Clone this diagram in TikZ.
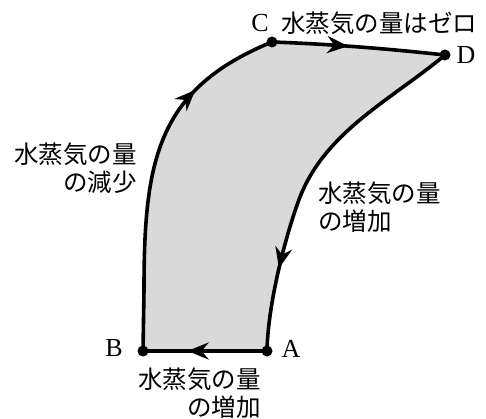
\documentclass[tikz,border=0pt]{standalone}
\usepackage{fontspec}
\setmainfont{Liberation Serif}
\newfontfamily\jp{Noto Sans CJK JP}
\usetikzlibrary{arrows.meta,decorations.markings}
\tikzset{
  edge/.style={line width=3.6pt, line cap=round, line join=round},
  arrowat/.style={postaction={decorate,decoration={markings,
     mark=at position #1 with {\arrow{Stealth[length=21pt,width=17pt,inset=7pt]}}}}},
  dot/.style={circle, fill=black, inner sep=0pt, minimum size=11pt},
  lab/.style={inner sep=0pt, font=\fontsize{26}{28}\selectfont},
  jlab/.style={inner sep=0pt, font=\jp\fontsize{24.5}{27.5}\selectfont},
  region/.style={fill=black!15}
}
\begin{document}
\begin{tikzpicture}[x=1pt,y=-1pt]
\useasboundingbox (0,0) rectangle (486,419);
\coordinate (k) at (144,290);
\coordinate (m) at (300,197);
% region
\fill[region] (143,351) -- (267,351) .. controls (268,300) and (288,228) .. (m)
  .. controls (326,131) and (391,100) .. (445,55)
  .. controls (390,49) and (330,44) .. (272,42)
  .. controls (157,89) and (144,160) .. (k) -- cycle;
% dots
\node[dot] (A) at (267,351) {};
\node[dot] (B) at (143,351) {};
\node[dot] (C) at (272,42) {};
\node[dot] (D) at (445,55) {};
% edges
\draw[edge, arrowat=0.64] (A.center) -- (B.center);
\draw[edge, arrowat=0.75] (B.center) -- (k) .. controls (144,160) and (157,89) .. (C.center);
\draw[edge, arrowat=0.44] (C.center) .. controls (330,44) and (390,49) .. (D.center);
\draw[edge, arrowat=0.77] (D.center) .. controls (391,100) and (326,131) .. (m)
  .. controls (288,228) and (268,300) .. (A.center);
% letters
\node[lab] at (260,23) {C};
\node[lab] at (466,55) {D};
\node[lab] at (114,348) {B};
\node[lab] at (291,349) {A};
% labels
\node[jlab, anchor=center] at (379,23) {水蒸気の量はゼロ};
\node[jlab, anchor=east, align=right] at (137,168) {水蒸気の量\\の減少};
\node[jlab, anchor=west, align=left] at (318,207) {水蒸気の量\\の増加};
\node[jlab, anchor=east, align=right] at (261,393) {水蒸気の量\\の増加};
\end{tikzpicture}
\end{document}
